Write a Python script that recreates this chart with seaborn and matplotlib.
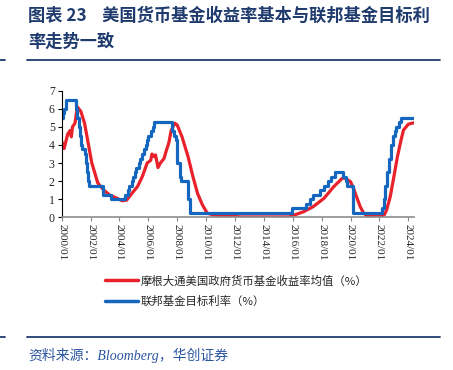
import matplotlib
matplotlib.use('Agg')
import matplotlib.pyplot as plt
import matplotlib.dates as mdates
import pandas as pd
import seaborn as sns

# -- data --
RED_LABEL = "摩根大通美国政府货币基金收益率均值（%）"
BLUE_LABEL = "联邦基金目标利率（%）"

red_dates = ["2000-01", "2000-03", "2000-06", "2000-08", "2000-09", "2000-10",
             "2000-12", "2001-02", "2001-05", "2001-08", "2001-11", "2002-02",
             "2002-05", "2002-07", "2002-12", "2003-05", "2003-11", "2004-03",
             "2004-07", "2004-11", "2005-04", "2005-08", "2005-12", "2006-03",
             "2006-04", "2006-06", "2006-07", "2006-09", "2006-11", "2007-02",
             "2007-04", "2007-06", "2007-08", "2007-11", "2008-01", "2008-05",
             "2008-10", "2009-02", "2009-06", "2009-10", "2010-02", "2010-08",
             "2011-07", "2012-06", "2015-10", "2015-12", "2016-10", "2017-06",
             "2018-03", "2018-11", "2019-06", "2019-08", "2020-01", "2020-04",
             "2020-07", "2020-09", "2020-12", "2021-03", "2021-11", "2022-05",
             "2022-07", "2022-10", "2023-01", "2023-04", "2023-07", "2023-09",
             "2024-01", "2024-06"]
red_values = [4.2, 3.8, 4.6, 4.8, 4.45, 5.0,
              5.2, 6.1, 5.85, 5.2, 4.1, 3.0,
              2.35, 1.9, 1.5, 1.23, 1.05, 0.92,
              0.95, 1.3, 1.7, 2.25, 3.0, 3.15,
              3.5, 3.35, 3.45, 2.75, 3.0, 3.25,
              3.7, 4.1, 4.8, 5.2, 5.1, 4.45,
              3.35, 2.25, 1.3, 0.68, 0.22, 0.12,
              0.07, 0.02, 0.02, 0.07, 0.31, 0.59,
              1.05, 1.69, 2.15, 2.18, 1.97, 1.51,
              0.96, 0.59, 0.22, 0.07, 0.03, 0.12,
              0.4, 1.14, 2.24, 3.35, 4.27, 4.82,
              5.15, 5.23]

# fed target rate: month of each change and the new level
blue_dates = ["2000-01", "2000-02", "2000-03", "2000-05", "2001-01", "2001-02",
              "2001-03", "2001-04", "2001-05", "2001-06", "2001-08", "2001-09",
              "2001-10", "2001-11", "2001-12", "2002-11", "2003-06", "2004-06",
              "2004-08", "2004-09", "2004-11", "2004-12", "2005-02", "2005-03",
              "2005-05", "2005-06", "2005-08", "2005-09", "2005-11", "2005-12",
              "2006-01", "2006-03", "2006-05", "2006-06", "2007-09", "2007-10",
              "2007-12", "2008-01", "2008-03", "2008-04", "2008-10", "2008-12",
              "2015-12", "2016-12", "2017-03", "2017-06", "2017-12", "2018-03",
              "2018-06", "2018-09", "2018-12", "2019-07", "2019-09", "2019-10",
              "2020-03", "2022-03", "2022-05", "2022-06", "2022-07", "2022-09",
              "2022-11", "2022-12", "2023-02", "2023-03", "2023-05", "2023-07",
              "2024-06"]
blue_values = [5.5, 5.75, 6.0, 6.5, 6.0, 5.5,
               5.0, 4.5, 4.0, 3.75, 3.5, 3.0,
               2.5, 2.0, 1.75, 1.25, 1.0, 1.25,
               1.5, 1.75, 2.0, 2.25, 2.5, 2.75,
               3.0, 3.25, 3.5, 3.75, 4.0, 4.25,
               4.5, 4.75, 5.0, 5.25, 4.75, 4.5,
               4.25, 3.0, 2.25, 2.0, 1.0, 0.25,
               0.5, 0.75, 1.0, 1.25, 1.5, 1.75,
               2.0, 2.25, 2.5, 2.25, 2.0, 1.75,
               0.25, 0.5, 1.0, 1.75, 2.5, 3.25,
               4.0, 4.5, 4.75, 5.0, 5.25, 5.5,
               5.5]

y_ticks = [0, 1, 2, 3, 4, 5, 6, 7]

TITLE = "图表 23    美国货币基金收益率基本与联邦基金目标利\n率走势一致"
SOURCE = "资料来源：Bloomberg，华创证券"

RED = "#E8212B"
BLUE = "#1566BE"
NAVY = "#1F3B6E"

sns.set_style("white")
plt.rcParams['font.family'] = ['Liberation Serif', 'Noto Sans CJK SC', 'DejaVu Sans']

red_df = pd.DataFrame({"date": pd.to_datetime(red_dates), "value": red_values})
blue_df = pd.DataFrame({"date": pd.to_datetime(blue_dates), "value": blue_values})

fig = plt.figure(figsize=(4.53, 3.70), dpi=100)
ax = fig.add_axes([61.7 / 453, 1 - 217.3 / 370, (414.3 - 61.7) / 453, (217.3 - 90.7) / 370])

sns.lineplot(data=red_df, x="date", y="value", ax=ax, color=RED, lw=2.3,
             label=RED_LABEL)
sns.lineplot(data=blue_df, x="date", y="value", ax=ax, color=BLUE, lw=2.3,
             drawstyle='steps-post', label=BLUE_LABEL)

ax.set_xlim(pd.Timestamp("2000-01-01"), pd.Timestamp("2024-06-01"))
ax.set_ylim(0, 7)
ax.set_yticks(y_ticks)
ax.xaxis.set_major_locator(mdates.YearLocator(2))
ax.xaxis.set_major_formatter(mdates.DateFormatter('%Y/%m'))
ax.set_xlabel("")
ax.set_ylabel("")
for lab in ax.get_xticklabels():
    lab.set_rotation(-90)
    lab.set_va('top')
    lab.set_ha('center')
ax.tick_params(axis='x', labelsize=8, length=3, width=0.8, color='#888888',
               direction='out', bottom=True, pad=2)
ax.tick_params(axis='y', labelsize=8.5, length=3, width=0.8, color='black',
               direction='out', left=True, pad=2)
ax.spines['top'].set_visible(False)
ax.spines['right'].set_visible(False)
ax.spines['left'].set_color('black')
ax.spines['left'].set_linewidth(0.8)
ax.spines['bottom'].set_color('#8c8c8c')
ax.spines['bottom'].set_linewidth(1.2)

leg = ax.legend(loc='upper left', bbox_to_anchor=(105 / 453, 1 - 275 / 370),
                bbox_transform=fig.transFigure, frameon=False,
                prop={'family': ['Noto Sans CJK SC'], 'size': 8.2},
                handlelength=2.9, handletextpad=0.2, labelspacing=0.85,
                borderpad=0, borderaxespad=0)
for line in leg.get_lines():
    line.set_linewidth(2.5)

# title, rules, source
fig.text(28 / 453, 1 - 7 / 370, TITLE, ha='left', va='top', color=NAVY,
         fontsize=12.4, fontweight='bold', family=['Noto Sans CJK SC'],
         linespacing=1.55)
fig.add_artist(plt.Line2D([27 / 453, 440 / 453], [1 - 60 / 370, 1 - 60 / 370],
                          color=NAVY, lw=1.3))
fig.add_artist(plt.Line2D([0, 5 / 453], [1 - 60 / 370, 1 - 60 / 370],
                          color=NAVY, lw=1.3))
fig.add_artist(plt.Line2D([27 / 453, 440 / 453], [1 - 337 / 370, 1 - 337 / 370],
                          color=NAVY, lw=1.3))
fig.add_artist(plt.Line2D([0, 5 / 453], [1 - 337 / 370, 1 - 337 / 370],
                          color=NAVY, lw=1.3))
fig.text(28 / 453, 1 - 355 / 370, SOURCE, ha='left', va='center', color='#2B55A0',
         fontsize=10, style='italic',
         family=['Liberation Serif', 'Noto Sans CJK SC'])

fig.savefig("out.png", dpi=100)
